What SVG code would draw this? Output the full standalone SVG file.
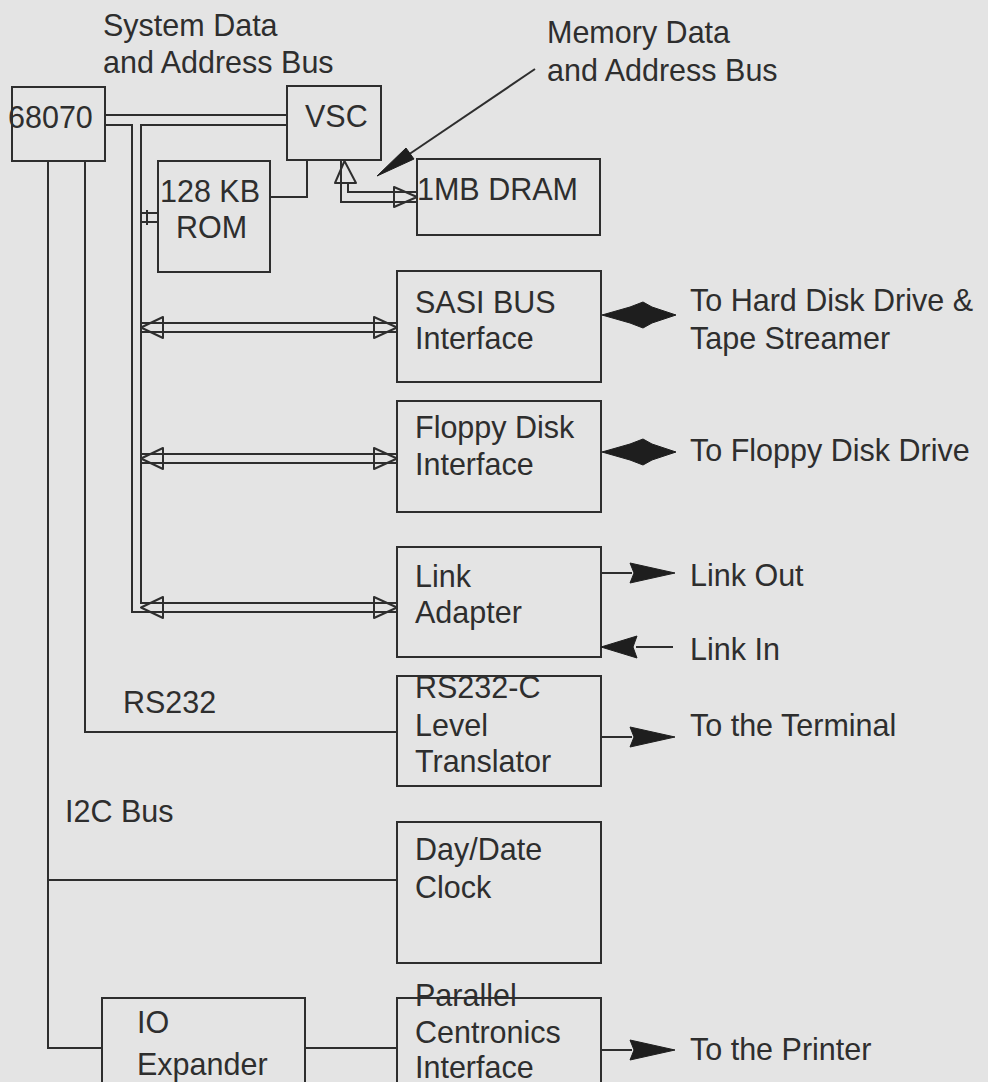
<svg xmlns="http://www.w3.org/2000/svg" width="988" height="1082" viewBox="0 0 988 1082">
<style>
.box{fill:none;stroke:#2e2e2e;stroke-width:2}
.ln{fill:none;stroke:#2e2e2e;stroke-width:2}
.oa{fill:none;stroke:#2e2e2e;stroke-width:2;stroke-linejoin:round}
.fa{fill:#1e1e1e;stroke:#1e1e1e;stroke-width:1}
text{font-family:"Liberation Sans",Arial,sans-serif;font-size:30.5px;fill:#2e2e2e}
</style>
<rect width="988" height="1082" fill="#e4e4e4"/>
<g id="labels">
<text x="103" y="36">System Data</text>
<text x="103" y="73">and Address Bus</text>
<text x="547" y="43">Memory Data</text>
<text x="547" y="81">and Address Bus</text>
<text x="123" y="713">RS232</text>
<text x="65" y="822">I2C Bus</text>
<text x="690" y="311">To Hard Disk Drive &amp;</text>
<text x="690" y="349">Tape Streamer</text>
<text x="690" y="461">To Floppy Disk Drive</text>
<text x="690" y="586">Link Out</text>
<text x="690" y="660">Link In</text>
<text x="690" y="736">To the Terminal</text>
<text x="690" y="1060">To the Printer</text>
</g>
<g id="n68070"><rect class="box" x="12" y="87" width="93" height="74"/><text x="8" y="128">68070</text></g>
<g id="vsc"><rect class="box" x="287" y="86" width="94" height="74"/><text x="305" y="127">VSC</text></g>
<g id="rom"><rect class="box" x="158" y="161" width="112" height="111"/><text x="160" y="202">128 KB</text><text x="176" y="238">ROM</text></g>
<g id="dram"><rect class="box" x="417" y="159" width="183" height="76"/><text x="417" y="200">1MB DRAM</text></g>
<g id="sasi"><rect class="box" x="397" y="271" width="204" height="111"/><text x="415" y="313">SASI BUS</text><text x="415" y="349">Interface</text></g>
<g id="floppy"><rect class="box" x="397" y="401" width="204" height="111"/><text x="415" y="438">Floppy Disk</text><text x="415" y="475">Interface</text></g>
<g id="link"><rect class="box" x="397" y="547" width="204" height="110"/><text x="415" y="587">Link</text><text x="415" y="623">Adapter</text></g>
<g id="rs232c"><rect class="box" x="397" y="676" width="204" height="110"/><text x="415" y="698">RS232-C</text><text x="415" y="736">Level</text><text x="415" y="772">Translator</text></g>
<g id="clock"><rect class="box" x="397" y="822" width="204" height="141"/><text x="415" y="860">Day/Date</text><text x="415" y="898">Clock</text></g>
<g id="ioexp"><rect class="box" x="102" y="998" width="203" height="100"/><text x="137" y="1033">IO</text><text x="137" y="1075">Expander</text></g>
<g id="parallel"><rect class="box" x="397" y="998" width="204" height="100"/><text x="415" y="1006">Parallel</text><text x="415" y="1043">Centronics</text><text x="415" y="1078">Interface</text></g>
<g id="connectors">
<path class="ln" d="M105 115H287M105 125H132V612H397M287 125H141V603H397"/>
<path class="ln" d="M141 323H397M141 332H397M141 454H397M141 463H397"/>
<polygon class="oa" points="141,327.5 163,317 163,338"/>
<polygon class="oa" points="397,327.5 374,317 374,338"/>
<polygon class="oa" points="141,458.5 163,448 163,469"/>
<polygon class="oa" points="397,458.5 374,448 374,469"/>
<polygon class="oa" points="141,607.5 163,597 163,618"/>
<polygon class="oa" points="397,607.5 374,597 374,618"/>
<path class="ln" d="M141 213H158M141 222H158"/>
<path class="ln" d="M147 210V225"/>
<path class="ln" d="M270 197H307V160"/>
<path class="ln" d="M341 160V202H417M348 183V192H417"/>
<polygon class="oa" points="344.5,161 335,183 356,183"/>
<polygon class="oa" points="417,197 394,187 394,207"/>
<path class="ln" d="M535 69L405 157"/>
<polygon class="fa" points="377,176 414,159 406,148"/>
<polygon class="fa" points="602,315 630,307 643,302 652,307 676,315 652,323 643,328 630,323"/>
<polygon class="fa" points="602,452 630,444 643,439 652,444 676,452 652,460 643,465 630,460"/>
<path class="ln" d="M601 573H632"/>
<polygon class="fa" points="675,573 630,563 634,573 630,583"/>
<path class="ln" d="M636 647H673"/>
<polygon class="fa" points="601,647 637,636 633,647 637,658"/>
<path class="ln" d="M85 161V732H397"/>
<path class="ln" d="M601 737H632"/>
<polygon class="fa" points="675,737 630,727 634,737 630,747"/>
<path class="ln" d="M48 161V1048H102M48 880H397M305 1048H397"/>
<path class="ln" d="M601 1050H632"/>
<polygon class="fa" points="675,1050 630,1040 634,1050 630,1060"/>
</g>
</svg>
